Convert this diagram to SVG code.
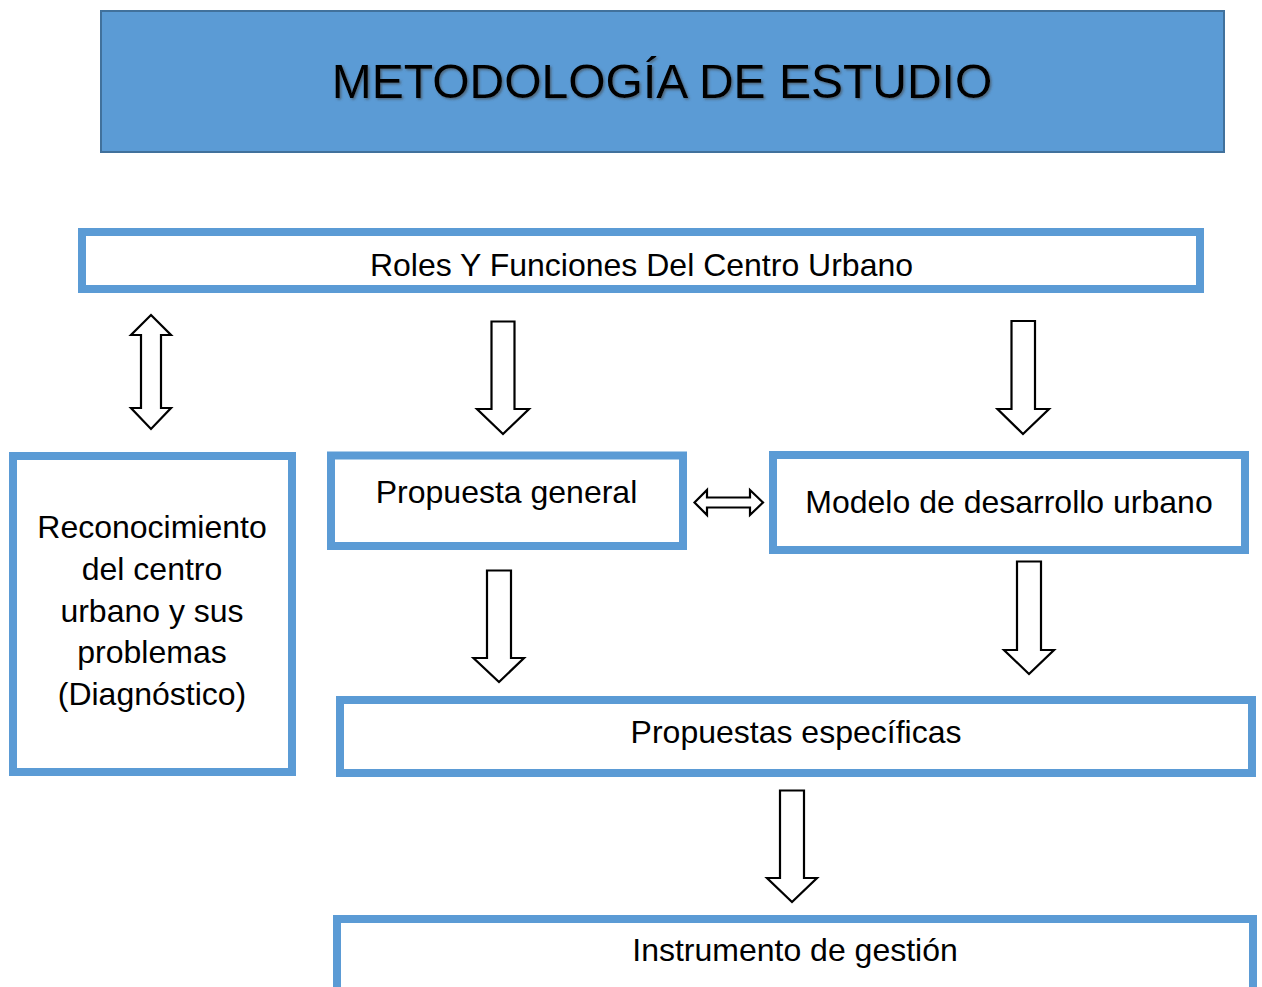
<svg xmlns="http://www.w3.org/2000/svg" width="1262" height="987" viewBox="0 0 1262 987">
  <defs>
    <filter id="shadow" x="-5%" y="-20%" width="110%" height="140%">
      <feDropShadow dx="1.5" dy="1.5" stdDeviation="0.8" flood-color="#404040" flood-opacity="0.6"/>
    </filter>
  </defs>
  <style>
    .box { fill: #ffffff; stroke: #5B9BD5; stroke-width: 8; }
    .lbl { font-family: "Liberation Sans", Arial, sans-serif; font-size: 32px; fill: #000000; text-anchor: middle; }
    .arrow { fill: #ffffff; stroke: #000000; stroke-width: 2.2; stroke-linejoin: miter; }
  </style>
  <rect width="1262" height="987" fill="#ffffff"/>

  <g id="title">
    <rect x="101" y="11" width="1123" height="141" fill="#5B9BD5" stroke="#41719C" stroke-width="2"/>
    <text x="662" y="98" font-family="Liberation Sans, Arial, sans-serif" font-size="48" text-anchor="middle" fill="#000000" filter="url(#shadow)">METODOLOGÍA DE ESTUDIO</text>
  </g>

  <g id="roles">
    <rect class="box" x="82" y="232" width="1118" height="57"/>
    <text class="lbl" x="641.5" y="276">Roles Y Funciones Del Centro Urbano</text>
  </g>

  <g id="reconocimiento">
    <rect class="box" x="13" y="456" width="279" height="316"/>
    <text class="lbl" x="152" y="538">Reconocimiento</text>
    <text class="lbl" x="152" y="580">del centro</text>
    <text class="lbl" x="152" y="622">urbano y sus</text>
    <text class="lbl" x="152" y="663">problemas</text>
    <text class="lbl" x="152" y="705">(Diagnóstico)</text>
  </g>

  <g id="propuesta-general">
    <rect class="box" x="331" y="455.5" width="352" height="90.5"/>
    <text class="lbl" x="506.5" y="503">Propuesta general</text>
  </g>

  <g id="modelo">
    <rect class="box" x="773" y="455" width="472" height="95"/>
    <text class="lbl" x="1009" y="513">Modelo de desarrollo urbano</text>
  </g>

  <g id="propuestas-especificas">
    <rect class="box" x="340" y="700" width="912" height="73"/>
    <text class="lbl" x="796" y="743">Propuestas específicas</text>
  </g>

  <g id="instrumento">
    <rect class="box" x="337" y="919" width="916" height="90"/>
    <text class="lbl" x="795" y="961">Instrumento de gestión</text>
  </g>

  <g id="connectors">
    <polygon class="arrow" points="151,315 171,335 161,335 161,408 171,408 151,429 131,408 141,408 141,335 131,335"/>
    <polygon class="arrow" points="491.5,321.5 514.5,321.5 514.5,409 529,409 503,434 477,409 491.5,409"/>
    <polygon class="arrow" points="1011.5,321 1035,321 1035,409 1049,409 1023,434 997.5,409 1011.5,409"/>
    <polygon class="arrow" points="694.5,502.5 707,490 707,497.5 750,497.5 750,490 763,502.5 750,515 750,507.5 707,507.5 707,515"/>
    <polygon class="arrow" points="487,570.5 511,570.5 511,658 524,658 499,682 473.5,658 487,658"/>
    <polygon class="arrow" points="1017,561.5 1041,561.5 1041,650 1054,650 1029,674 1004,650 1017,650"/>
    <polygon class="arrow" points="780,790.5 804,790.5 804,878 817,878 792,902 767,878 780,878"/>
  </g>
</svg>
